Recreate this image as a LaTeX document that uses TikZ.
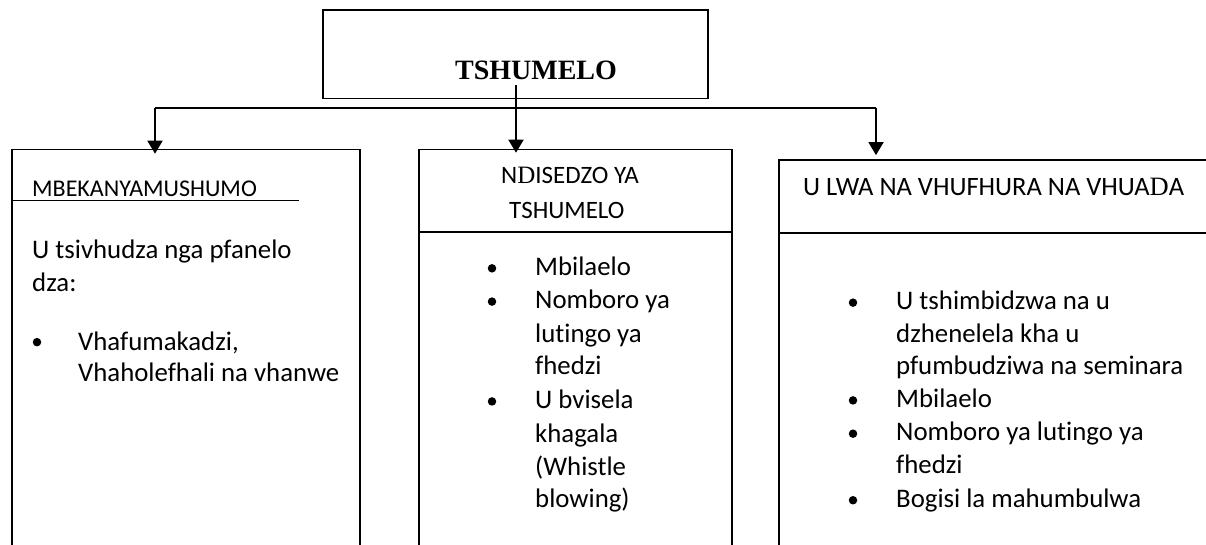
\documentclass[tikz,border=0pt]{standalone}
\usepackage{fontspec}
\setmainfont{Carlito}[Ligatures=NoCommon]
\newfontfamily\serifb{Liberation Serif}
\usetikzlibrary{arrows.meta}
\begin{document}
\begin{tikzpicture}[x=1pt,y=-1.04pt,
  box/.style={draw, line width=1.6pt, rectangle, inner sep=0pt},
  txt/.style={anchor=base west, inner sep=0pt, font=\fontsize{26.8}{32}\selectfont},
  hd/.style={inner sep=0pt},
  bul/.style={circle, fill, inner sep=0pt, minimum size=8.5pt},
  conn/.style={line width=1.8pt},
  arr/.style={line width=1.8pt, -{Triangle[width=15pt,length=13pt]}},
  divider/.style={line width=1.3pt}]
\useasboundingbox (0,0) rectangle (1206,524.04);
% boxes
\node[box, minimum width=385pt, minimum height=88.5pt, anchor=north west] (top) at (322,9) {};
\node[box, minimum width=348pt, minimum height=430pt, anchor=north west] (lbox) at (11,143) {};
\node[box, minimum width=313pt, minimum height=430pt, anchor=north west] (mbox) at (418,143) {};
\node[box, minimum width=450pt, minimum height=420pt, anchor=north west] (rbox) at (778,153) {};
% title
\node[anchor=base, inner sep=0pt, font=\serifb\bfseries\fontsize{28}{30}\selectfont] (title) at (536,76) {TSHUMELO};
% connectors
\coordinate (stem) at (516,82);
\coordinate (lj) at (155,104);
\coordinate (rj) at (876,104);
\draw[conn] (lj) -- (rj);
\draw[arr] (lj) -- ([yshift=-5pt]lj |- lbox.north);
\draw[arr] (stem) -- ([yshift=-4pt]stem |- mbox.north);
\draw[arr] (rj) -- ([yshift=4pt]rj |- rbox.north);
% dividers
\draw[divider] (lbox.west |- 0,193) -- (299,193);
\draw[divider] (mbox.west |- 0,223) -- (mbox.east |- 0,223);
\draw[divider] (rbox.west |- 0,224) -- (rbox.east |- 0,224);
% left box text
\node[hd, anchor=base west, font=\fontsize{24}{28}\selectfont] (lh) at (32,189) {MBEKANYAMUSHUMO};
\node[txt] (l1) at (32,249) {U tsivhudza nga pfanelo};
\node[txt] (l2) at (32,280) {dza:};
\node[bul] (lb1) at (37,329) {};
\node[txt] (l3) at (78,337) {Vhafumakadzi,};
\node[txt] (l4) at (78,367) {Vhaholefhali na vhanwe};
% middle box text
\node[hd, anchor=base west, font=\fontsize{25}{28}\selectfont] (mh1) at (501,176) {N{\serifb D}ISEDZO YA};
\node[hd, anchor=base west, font=\fontsize{25}{28}\selectfont] (mh2) at (509,210) {TSHUMELO};
\node[bul] (mb1) at (492,258) {};
\node[bul] (mb2) at (492,290) {};
\node[bul] (mb3) at (492,386) {};
\node[txt] (m1) at (535,265) {Mbilaelo};
\node[txt] (m2) at (535,297) {Nomboro ya};
\node[txt] (m3) at (535,329) {lutingo ya};
\node[txt] (m4) at (535,360) {fhedzi};
\node[txt] (m5) at (535,393) {U bvisela};
\node[txt] (m6) at (535,425) {khagala};
\node[txt] (m7) at (535,457) {(Whistle};
\node[txt] (m8) at (535,488) {blowing)};
% right box text
\node[hd, anchor=base west, font=\fontsize{26.5}{30}\selectfont] (rh) at (803,188) {U LWA NA VHUFHURA NA VHUA{\serifb D}A};
\node[bul] (rb1) at (853,291) {};
\node[bul] (rb2) at (853,385) {};
\node[bul] (rb3) at (853,417) {};
\node[bul] (rb4) at (853,481) {};
\node[txt] (r1) at (896,298) {U tshimbidzwa na u};
\node[txt] (r2) at (896,329) {dzhenelela kha u};
\node[txt] (r3) at (896,360) {pfumbudziwa na seminara};
\node[txt] (r4) at (896,392) {Mbilaelo};
\node[txt] (r5) at (896,424) {Nomboro ya lutingo ya};
\node[txt] (r6) at (896,455) {fhedzi};
\node[txt] (r7) at (896,488) {Bogisi la mahumbulwa};
\end{tikzpicture}
\end{document}
